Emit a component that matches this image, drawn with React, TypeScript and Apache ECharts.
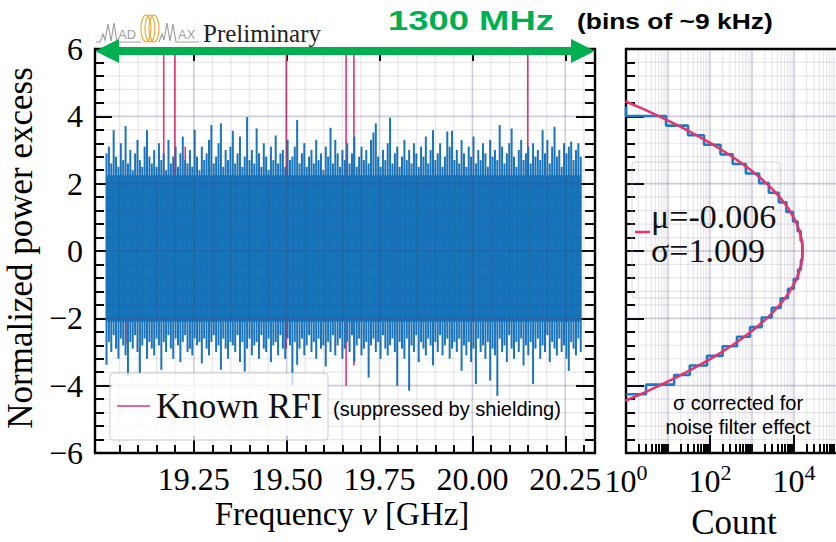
import React, { useEffect, useRef } from "react";
import * as echarts from "echarts";

// ---------- data ----------
// spectrum channels (binned for display): first frequency and spacing, GHz
const F_START = 19.015;
const F_STEP = 0.006415;

// per-bin maximum of the normalized power excess
const NOISE_HI = [
  2.9, 3.1, 2.6, 3.59, 2.8, 2.5, 3.2, 2.7, 3.71, 2.6, 3.0, 2.4, 2.9, 3.3, 2.7, 2.5, 3.1, 3.59, 2.8, 2.6,
  3.0, 2.5, 3.2, 2.7, 2.9, 2.4, 3.3, 2.6, 2.8, 3.1, 2.5, 2.9, 3.4, 2.7, 2.6, 3.0, 2.5, 3.6, 2.8, 2.4,
  3.1, 2.7, 2.9, 3.3, 3.74, 2.6, 2.8, 3.2, 3.79, 2.5, 3.0, 2.7, 3.1, 3.57, 2.6, 2.9, 3.4, 2.5, 2.8, 3.98,
  2.7, 3.0, 2.6, 3.64, 2.9, 2.5, 3.2, 2.8, 2.4, 3.1, 2.7, 3.43, 2.6, 2.9, 3.0, 2.5, 3.3, 2.7, 2.8, 3.1,
  3.89, 2.6, 2.9, 3.2, 2.5, 2.8, 3.0, 2.6, 3.3, 2.7, 2.9, 2.4, 3.1, 2.8, 3.66, 2.6, 3.3, 2.9, 2.5, 3.0,
  2.7, 3.2, 2.6, 2.9, 3.4, 2.5, 2.8, 3.1, 2.7, 3.0, 2.6, 3.3, 3.52, 3.79, 2.8, 2.5, 3.0, 2.7, 3.2, 3.96,
  2.6, 2.9, 3.1, 2.5, 2.8, 3.3, 2.7, 3.0, 2.6, 3.2, 2.9, 2.5, 3.1, 2.8, 3.4, 2.6, 3.0, 3.59, 2.7, 2.9,
  3.2, 2.5, 2.8, 3.55, 3.1, 3.57, 2.7, 3.0, 2.6, 3.3, 2.9, 2.5, 3.1, 2.8, 3.4, 2.6, 3.0, 2.7, 3.2, 2.9,
  2.5, 3.3, 2.8, 3.0, 2.7, 3.74, 3.1, 2.6, 2.9, 3.2, 3.64, 2.8, 2.5, 3.0, 3.3, 2.7, 2.9, 3.1, 2.6, 3.2,
  2.8, 3.0, 2.7, 3.59, 2.9, 3.3, 2.6, 3.1, 3.69, 2.8, 3.0, 2.5, 3.2, 2.9, 3.1, 3.25, 2.7, 3.0, 3.2, 2.8,
];

// per-bin minimum of the normalized power excess
const NOISE_LO = [
  -3.38, -2.7, -3.0, -2.5, -2.9, -3.2, -2.6, -2.8, -3.1, -3.71, -2.7, -2.9, -2.5, -3.0, -3.64, -2.8, -2.6, -3.2, -2.7, -2.9,
  -3.1, -2.6, -2.8, -3.53, -2.7, -3.0, -2.5, -2.9, -3.2, -2.6, -2.8, -3.3, -2.7, -2.5, -3.0, -2.9, -3.1, -2.6, -2.8, -2.7,
  -3.34, -2.6, -2.9, -3.1, -2.7, -2.5, -3.0, -2.8, -3.53, -2.6, -2.9, -3.2, -2.7, -2.8, -3.0, -2.5, -3.3, -2.7, -3.58, -2.9,
  -2.6, -3.1, -2.8, -2.7, -3.2, -2.5, -2.9, -3.0, -2.6, -3.3, -2.8, -2.7, -3.1, -2.5, -2.9, -3.2, -2.6, -2.8, -3.99, -2.7,
  -3.38, -2.9, -2.6, -3.1, -2.8, -2.5, -3.0, -2.7, -3.2, -2.6, -2.9, -2.8, -3.43, -2.7, -3.0, -2.5, -3.1, -2.8, -2.6, -3.2,
  -2.9, -2.7, -3.0, -2.5, -3.3, -2.8, -2.6, -3.1, -2.9, -2.7, -3.76, -2.8, -2.6, -3.0, -2.7, -3.2, -2.5, -2.9, -3.1, -2.8,
  -2.6, -3.0, -4.0, -2.7, -2.9, -3.2, -2.6, -4.15, -2.8, -3.0, -2.5, -3.3, -2.7, -2.9, -3.1, -2.6, -2.8, -3.4, -2.7, -3.0,
  -2.5, -3.1, -2.8, -2.6, -3.2, -2.9, -2.7, -3.0, -2.6, -3.56, -2.8, -3.1, -2.7, -3.3, -2.9, -3.95, -2.6, -3.0, -2.8, -3.2,
  -2.7, -3.85, -2.9, -3.1, -4.3, -2.6, -3.0, -2.8, -3.3, -2.5, -2.9, -3.2, -2.7, -3.0, -2.6, -3.4, -2.8, -3.1, -2.7, -3.95,
  -2.9, -2.6, -3.2, -2.8, -3.0, -2.5, -3.3, -2.7, -2.9, -3.1, -2.6, -3.0, -2.8, -3.2, -3.56, -2.7, -2.9, -3.1, -2.6, -3.0,
];

// the densely filled part of the spectrum
const CORE_LO = -2.1;
const CORE_HI = 2.25;

// known RFI channels
const RFI_FREQ = [19.07, 19.169, 19.199, 19.227, 19.499, 19.66, 19.681, 20.149];
const RFI_LO = [-2.75, -2.0, -2.0, -2.0, -2.9, -4.0, -3.4, -2.0];
const RFI_HI = [2.0, 7.0, 7.0, 3.1, 7.0, 7.0, 7.0, 7.0];

// histogram of the power excess (30 bins, bottom to top)
const HIST_EDGE0 = -4.255;
const HIST_BIN = 0.285;
const HIST_COUNTS = [
  3, 14, 33, 85, 200, 440, 900, 1700, 2950, 4800,
  7200, 9900, 12500, 14600, 15800, 15700, 14400, 12200, 9500, 6600,
  4350, 2520, 1480, 715, 347, 178, 72, 30, 9, 1,
];

// Gaussian fit (mu = -0.006, sigma = 1.009)
const FIT_V = [
  -4.45, -4.2, -4.0, -3.8, -3.6, -3.4, -3.2, -3.0, -2.8, -2.6, -2.4, -2.2, -2.0, -1.8, -1.6, -1.4, -1.2, -1.0, -0.8, -0.6, -0.4, -0.2,
  0, 0.2, 0.4, 0.6, 0.8, 1.0, 1.2, 1.4, 1.6, 1.8, 2.0, 2.2, 2.4, 2.6, 2.8, 3.0, 3.2, 3.4, 3.6, 3.8, 4.0, 4.2, 4.45,
];
const FIT_COUNT = [
  0.96, 2.8, 6.2, 13.3, 27.6, 54.7, 105, 192, 340, 578, 945, 1485, 2243, 3260, 4550, 6109, 7888, 9790, 11685, 13400, 14790, 15690,
  16000, 15690, 14790, 13400, 11685, 9790, 7888, 6109, 4550, 3260, 2243, 1485, 945, 578, 340, 192, 105, 54.7, 27.6, 13.3, 6.2, 2.8, 0.96,
];

// axes
const X_MIN = 18.984;
const X_MAX = 20.33;
const X_MAJOR = [19.25, 19.5, 19.75, 20.0, 20.25];
const X_MINOR = [
  19.05, 19.1, 19.15, 19.2, 19.3, 19.35, 19.4, 19.45, 19.55, 19.6, 19.65, 19.7,
  19.8, 19.85, 19.9, 19.95, 20.05, 20.1, 20.15, 20.2, 20.3,
];
const Y_MAJOR = [-4, -2, 0, 2, 4];
const Y_MINOR = [
  -5.6, -5.2, -4.8, -4.4, -3.6, -3.2, -2.8, -2.4, -1.6, -1.2, -0.8, -0.4,
  0.4, 0.8, 1.2, 1.6, 2.4, 2.8, 3.2, 3.6, 4.4, 4.8, 5.2, 5.6,
];
const LOG_LABELS = [1, 100, 10000];
const LOG_DECADES = [10, 100, 1000, 10000];
const LOG_MINOR = [
  2, 3, 4, 5, 6, 7, 8, 9, 10, 20, 30, 40, 50, 60, 70, 80, 90,
  200, 300, 400, 500, 600, 700, 800, 900, 1000, 2000, 3000, 4000, 5000, 6000, 7000, 8000, 9000,
  20000, 30000, 40000, 50000, 60000, 70000, 80000, 90000,
];

// ---------- styles ----------
const BLUE = "#0b6db5";
const SPIKE_BLUE = "#1a75ba";
const HIST_BLUE = "#1a7bc4";
const PINK = "#e8336f";
const GREEN = "#00b050";
const SERIF = '"Liberation Serif", "DejaVu Serif", serif';
const SANS = '"Liberation Sans", Arial, sans-serif';
const GRID_MINOR = "rgba(70,60,110,0.12)";
const GRID_MAJOR = "rgba(70,60,110,0.25)";

const minus = (v: number) => (v < 0 ? "\u2212" + Math.abs(v) : String(v));

const lineAxis = { show: true, onZero: false, lineStyle: { color: "#000", width: 2.4 } };
const noLine = { show: false, onZero: false };

function tickAxisX(grid: number, type: string, min: number, max: number, pos: string, values: number[], len: number, withLine: boolean) {
  return {
    gridIndex: grid,
    type,
    logBase: 10,
    min,
    max,
    position: pos,
    axisLine: withLine ? lineAxis : noLine,
    axisTick: { show: values.length > 0, inside: true, length: len, customValues: values, lineStyle: { color: "#000", width: 2 } },
    axisLabel: { show: false },
    splitLine: { show: false },
  };
}

function gridLines(xi: number, yi: number, xs: [number, number][], ys: [number, number][], xRef: number) {
  const data = [
    ...xs.map(([v, m]) => [v, 0, m, 0]),
    ...ys.map(([v, m]) => [xRef, v, m, 1]),
  ];
  return {
    type: "custom",
    xAxisIndex: xi,
    yAxisIndex: yi,
    silent: true,
    z: 4,
    data,
    renderItem: (params: any, api: any) => {
      const cs = params.coordSys;
      const major = api.value(2) === 1;
      const style = { stroke: major ? GRID_MAJOR : GRID_MINOR, lineWidth: major ? 1.6 : 1.2 };
      if (api.value(3) === 0) {
        const x = api.coord([api.value(0), 0])[0];
        return { type: "line", shape: { x1: x, y1: cs.y, x2: x, y2: cs.y + cs.height }, style };
      }
      const y = api.coord([xRef, api.value(1)])[1];
      return { type: "line", shape: { x1: cs.x, y1: y, x2: cs.x + cs.width, y2: y }, style };
    },
  };
}

function buildOption() {
  const spikes = NOISE_HI.map((h, i) => [F_START + i * F_STEP, NOISE_LO[i], h]);
  const fEnd = F_START + (NOISE_HI.length - 1) * F_STEP;
  const rfi = RFI_FREQ.map((f, i) => [f, RFI_LO[i], RFI_HI[i]]);

  const histPts: number[][] = [[1, HIST_EDGE0]];
  HIST_COUNTS.forEach((c, i) => {
    const lo = HIST_EDGE0 + i * HIST_BIN;
    histPts.push([c, lo], [c, lo + HIST_BIN]);
  });
  histPts.push([1, HIST_EDGE0 + HIST_COUNTS.length * HIST_BIN]);

  const fit = FIT_V.map((v, i) => [FIT_COUNT[i], v]);

  const vLine = (params: any, api: any, color: string, width: number) => {
    const a = api.coord([api.value(0), api.value(1)]);
    const b = api.coord([api.value(0), api.value(2)]);
    return { type: "line", shape: { x1: a[0], y1: a[1], x2: b[0], y2: b[1] }, style: { stroke: color, lineWidth: width } };
  };

  const yAxisBase = {
    type: "value",
    min: -6,
    max: 6,
    interval: 2,
    splitLine: { show: false },
    axisLine: lineAxis,
  };

  return {
    animation: false,
    backgroundColor: "#fff",
    grid: [
      { left: 95, top: 49, width: 500, height: 404 },
      { left: 626, top: 49, width: 214, height: 404 },
    ],
    xAxis: [
      {
        gridIndex: 0,
        type: "value",
        min: X_MIN,
        max: X_MAX,
        position: "bottom",
        axisLine: lineAxis,
        splitLine: { show: false },
        axisTick: { show: true, inside: true, length: 17, customValues: X_MAJOR, lineStyle: { color: "#000", width: 2 } },
        axisLabel: {
          customValues: X_MAJOR,
          formatter: (v: number) => v.toFixed(2),
          fontFamily: SERIF,
          fontSize: 32,
          color: "#000",
          margin: 10,
        },
      },
      tickAxisX(0, "value", X_MIN, X_MAX, "bottom", X_MINOR, 8, false),
      tickAxisX(0, "value", X_MIN, X_MAX, "top", X_MAJOR, 12, true),
      tickAxisX(0, "value", X_MIN, X_MAX, "top", X_MINOR, 6, false),
      {
        gridIndex: 1,
        type: "log",
        logBase: 10,
        min: 1,
        max: 100000,
        position: "bottom",
        axisLine: lineAxis,
        splitLine: { show: false },
        axisTick: { show: true, inside: true, length: 18, customValues: LOG_LABELS, lineStyle: { color: "#000", width: 2 } },
        axisLabel: {
          customValues: LOG_LABELS,
          formatter: (v: number) => `{b|10}{e|${Math.round(Math.log10(v))}}`,
          margin: 8,
          rich: {
            b: { fontFamily: SERIF, fontSize: 32, color: "#000", lineHeight: 40 },
            e: { fontFamily: SERIF, fontSize: 22, color: "#000", verticalAlign: "top", lineHeight: 22 },
          },
        },
      },
      tickAxisX(1, "log", 1, 100000, "bottom", LOG_MINOR, 9, false),
      tickAxisX(1, "log", 1, 100000, "top", [], 0, true),
    ],
    yAxis: [
      {
        ...yAxisBase,
        gridIndex: 0,
        position: "left",
        axisTick: { show: true, inside: true, length: 17, lineStyle: { color: "#000", width: 2 } },
        minorTick: { show: true, splitNumber: 5, length: 9, lineStyle: { color: "#000", width: 2 } },
        axisLabel: { formatter: minus, fontFamily: SERIF, fontSize: 32, color: "#000", margin: 12 },
      },
      {
        ...yAxisBase,
        gridIndex: 0,
        position: "right",
        axisTick: { show: true, inside: true, length: 19, lineStyle: { color: "#000", width: 2 } },
        minorTick: { show: true, splitNumber: 5, length: 10, lineStyle: { color: "#000", width: 2 } },
        axisLabel: { show: false },
      },
      {
        ...yAxisBase,
        gridIndex: 1,
        position: "left",
        axisTick: { show: true, inside: true, length: 18, lineStyle: { color: "#000", width: 2 } },
        minorTick: { show: true, splitNumber: 5, length: 9, lineStyle: { color: "#000", width: 2 } },
        axisLabel: { show: false },
      },
    ],
    series: [
      // known RFI channels, beneath the spectrum
      {
        type: "custom",
        xAxisIndex: 0,
        yAxisIndex: 0,
        clip: true,
        z: 1,
        data: rfi,
        renderItem: (p: any, api: any) => vLine(p, api, PINK, 1.6),
      },
      // dense core of the spectrum
      {
        type: "custom",
        xAxisIndex: 0,
        yAxisIndex: 0,
        clip: true,
        z: 2,
        data: [[F_START, CORE_LO, fEnd, CORE_HI]],
        renderItem: (p: any, api: any) => {
          const a = api.coord([api.value(0), api.value(3)]);
          const b = api.coord([api.value(2), api.value(1)]);
          return { type: "rect", shape: { x: a[0], y: a[1], width: b[0] - a[0], height: b[1] - a[1] }, style: { fill: BLUE } };
        },
      },
      // per-bin excursions
      {
        type: "custom",
        xAxisIndex: 0,
        yAxisIndex: 0,
        clip: true,
        z: 3,
        data: spikes,
        renderItem: (p: any, api: any) => vLine(p, api, SPIKE_BLUE, 2.0),
      },
      gridLines(
        0,
        0,
        [...X_MAJOR.map((v) => [v, 1] as [number, number]), ...X_MINOR.map((v) => [v, 0] as [number, number])],
        [...Y_MAJOR.map((v) => [v, 1] as [number, number]), ...Y_MINOR.map((v) => [v, 0] as [number, number])],
        19.5
      ),
      gridLines(
        4,
        2,
        [...LOG_DECADES.map((v) => [v, 1] as [number, number]), ...LOG_MINOR.filter((v) => !LOG_DECADES.includes(v)).map((v) => [v, 0] as [number, number])],
        [...Y_MAJOR.map((v) => [v, 1] as [number, number]), ...Y_MINOR.map((v) => [v, 0] as [number, number])],
        10
      ),
      {
        type: "line",
        xAxisIndex: 4,
        yAxisIndex: 2,
        data: histPts,
        symbol: "none",
        clip: true,
        z: 5,
        lineStyle: { color: HIST_BLUE, width: 2.6 },
      },
      {
        type: "line",
        xAxisIndex: 4,
        yAxisIndex: 2,
        data: fit,
        symbol: "none",
        clip: true,
        z: 6,
        lineStyle: { color: PINK, width: 2.6 },
      },
    ],
    graphic: [
      // MADMAX logo and "Preliminary" tag
      {
        type: "polyline",
        z: 20,
        shape: { points: [[96, 42], [100, 42], [103, 34], [105, 40], [108, 24], [111, 41], [114, 23], [117, 42], [141, 42]] },
        style: { stroke: "#a0a0a0", lineWidth: 1.2, fill: null },
      },
      { type: "text", z: 20, x: 118, y: 34, style: { text: "AD", font: `13px ${SANS}`, fill: "#a0a0a0", verticalAlign: "middle" } },
      { type: "ellipse", z: 20, shape: { cx: 146, cy: 28.5, rx: 5, ry: 13.5 }, style: { stroke: "#f2a93b", lineWidth: 1.2, fill: null } },
      { type: "ellipse", z: 20, shape: { cx: 150, cy: 28.5, rx: 5, ry: 13.5 }, style: { stroke: "#f2a93b", lineWidth: 1.2, fill: null } },
      { type: "ellipse", z: 20, shape: { cx: 154, cy: 28.5, rx: 5, ry: 13.5 }, style: { stroke: "#f2a93b", lineWidth: 1.2, fill: null } },
      {
        type: "polyline",
        z: 20,
        shape: { points: [[159, 42], [162, 34], [164, 40], [167, 23], [170, 41], [173, 24], [176, 42], [199, 42]] },
        style: { stroke: "#a0a0a0", lineWidth: 1.2, fill: null },
      },
      { type: "text", z: 20, x: 178, y: 34, style: { text: "AX", font: `13px ${SANS}`, fill: "#a0a0a0", verticalAlign: "middle" } },
      { type: "text", z: 20, x: 203, y: 33, style: { text: "Preliminary", font: `25px ${SERIF}`, fill: "#222", verticalAlign: "middle" } },
      // bandwidth arrow
      {
        type: "polygon",
        z: 30,
        shape: {
          points: [[95, 51], [119, 39], [119, 47], [571, 47], [571, 39], [595, 51], [571, 63], [571, 55], [119, 55], [119, 63]],
        },
        style: { fill: GREEN },
      },
      { type: "text", z: 30, x: 388, y: 21, scaleX: 1.3, style: { text: "1300 MHz", font: `bold 28px ${SANS}`, fill: GREEN, verticalAlign: "middle" } },
      { type: "text", z: 30, x: 577, y: 21, scaleX: 1.2, style: { text: "(bins of ~9 kHz)", font: `bold 22px ${SANS}`, fill: "#000", verticalAlign: "middle" } },
      // axis titles
      {
        type: "text",
        z: 20,
        x: 20,
        y: 248,
        rotation: Math.PI / 2,
        style: { text: "Normalized power excess", font: `35px ${SERIF}`, fill: "#000", align: "center", verticalAlign: "middle" },
      },
      {
        type: "text",
        z: 20,
        x: 342,
        y: 514,
        style: {
          text: "Frequency {i|\u03bd} [GHz]",
          font: `33px ${SERIF}`,
          fill: "#000",
          align: "center",
          verticalAlign: "middle",
          rich: { i: { font: `italic 33px ${SERIF}`, fill: "#000" } },
        },
      },
      { type: "text", z: 20, x: 734, y: 522, style: { text: "Count", font: `35px ${SERIF}`, fill: "#000", align: "center", verticalAlign: "middle" } },
      // RFI legend
      {
        type: "rect",
        z: 15,
        shape: { x: 110, y: 373, width: 218, height: 67, r: 3 },
        style: { fill: "rgba(255,255,255,0.75)", stroke: "rgba(190,190,200,0.8)", lineWidth: 1 },
      },
      { type: "line", z: 16, shape: { x1: 117, y1: 406, x2: 150, y2: 406 }, style: { stroke: PINK, lineWidth: 1.6 } },
      { type: "text", z: 16, x: 156, y: 406, style: { text: "Known RFI", font: `35px ${SERIF}`, fill: "#111", verticalAlign: "middle" } },
      { type: "text", z: 16, x: 333, y: 409, style: { text: "(suppressed by shielding)", font: `20px ${SANS}`, fill: "#000", verticalAlign: "middle" } },
      // fit legend
      {
        type: "rect",
        z: 3,
        shape: { x: 632, y: 162, width: 148, height: 136, r: 3 },
        style: { fill: null, stroke: "rgba(190,190,200,0.6)", lineWidth: 1 },
      },
      { type: "line", z: 16, shape: { x1: 635, y1: 232, x2: 650, y2: 232 }, style: { stroke: PINK, lineWidth: 2.6 } },
      { type: "text", z: 16, x: 651, y: 216, style: { text: "\u03bc=-0.006", font: `34px ${SERIF}`, fill: "#111", verticalAlign: "middle" } },
      { type: "text", z: 16, x: 651, y: 250, style: { text: "\u03c3=1.009", font: `34px ${SERIF}`, fill: "#111", verticalAlign: "middle" } },
      { type: "text", z: 16, x: 738, y: 403, style: { text: "\u03c3 corrected for", font: `20px ${SANS}`, fill: "#000", align: "center", verticalAlign: "middle" } },
      { type: "text", z: 16, x: 738, y: 427, style: { text: "noise filter effect", font: `20px ${SANS}`, fill: "#000", align: "center", verticalAlign: "middle" } },
    ],
  };
}

export default function App() {
  const ref = useRef<HTMLDivElement>(null);
  useEffect(() => {
    const chart = echarts.init(ref.current as HTMLDivElement, undefined, { renderer: "svg" });
    chart.setOption(buildOption() as any);
    return () => chart.dispose();
  }, []);
  return (
    <div
      ref={ref}
      style={{ position: "fixed", left: 0, top: 0, width: 836, height: 542, background: "#fff" }}
    />
  );
}
